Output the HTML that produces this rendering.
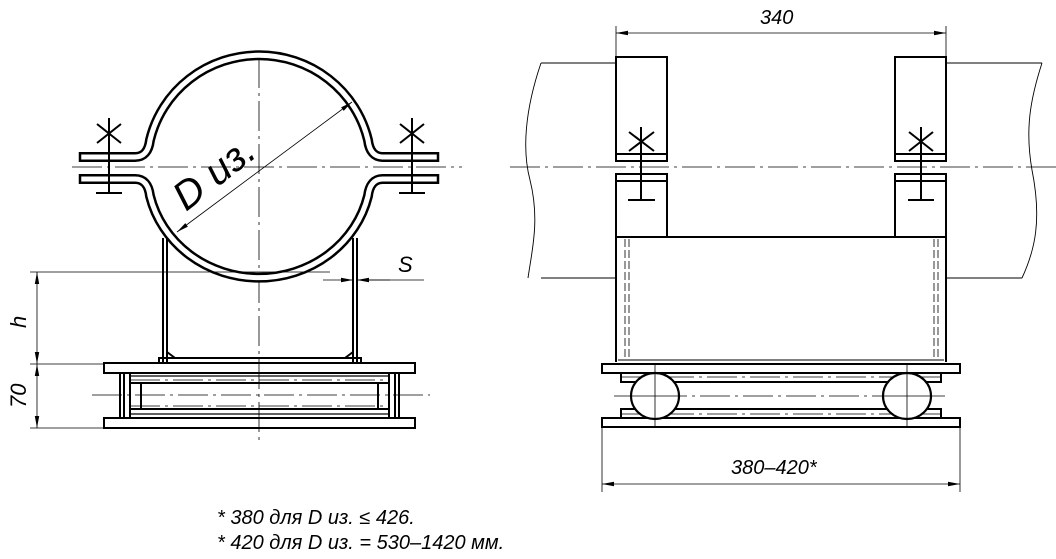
<!DOCTYPE html>
<html><head><meta charset="utf-8"><style>
html,body{margin:0;padding:0;background:#fff;}
svg{display:block;}
text{font-family:"Liberation Sans","DejaVu Sans",sans-serif;font-style:italic;fill:#000;}
</style></head><body>
<svg width="1056" height="559" viewBox="0 0 1056 559" xmlns="http://www.w3.org/2000/svg">
<defs>
<marker id="ar" viewBox="0 0 12 6" refX="12" refY="3" markerWidth="12" markerHeight="6" orient="auto-start-reverse" markerUnits="userSpaceOnUse"><path d="M0,0.8 L12,3 L0,5.2z" fill="#000"/></marker>
</defs>
<g fill="none" stroke="#000">
<!-- ===== LEFT VIEW ===== -->
<line x1="72" y1="167" x2="462" y2="167" stroke-width="0.8" stroke-dasharray="30,5,3,5"/>
<line x1="259" y1="58" x2="259" y2="442" stroke-width="0.8" stroke-dasharray="30,5,3,5"/>
<line x1="92" y1="395" x2="430" y2="395" stroke-width="0.8" stroke-dasharray="30,5,3,5"/>
<path d="M80,157 L135,157 Q148,157 150,140 A112,110 0 0 1 368,140 Q370,157 383,157 L438,157" stroke-width="10"/>
<path d="M80,157 L135,157 Q148,157 150,140 A112,110 0 0 1 368,140 Q370,157 383,157 L438,157" stroke="#fff" stroke-width="5"/>
<path d="M80,179 L135,179 Q148,179 150,196 A112,106 0 0 0 368,196 Q370,179 383,179 L438,179" stroke-width="10"/>
<path d="M80,179 L135,179 Q148,179 150,196 A112,106 0 0 0 368,196 Q370,179 383,179 L438,179" stroke="#fff" stroke-width="5"/>
<path d="M80,152 V162 M80,174 V184 M438,152 V162 M438,174 V184" stroke-width="2.5"/>
<g stroke-width="2">
<path d="M109,118 V193 M96,193 H122 M97,124 L121,143 M121,124 L97,143"/>
<path d="M412,118 V193 M399,193 H425 M400,124 L424,143 M424,124 L400,143"/>
</g>
<line x1="177" y1="232" x2="352" y2="102" stroke-width="0.8" marker-start="url(#ar)" marker-end="url(#ar)"/>
<g stroke-width="2">
<path d="M163,238 V362 M167,238 V362 M353,238 V362 M357,238 V362"/>
<path d="M159,362 V358 H361 V362"/>
<path d="M167,352 L175,358 M353,352 L345,358"/>
<rect x="104" y="363" width="311" height="10"/>
<rect x="104" y="418" width="311" height="10"/>
<path d="M120,373 V418 M124,373 V418 M130,373 V418 M141,383 V409 M130,383 H389 M130,409 H389"/>
<path d="M399,373 V418 M395,373 V418 M389,373 V418 M378,383 V409"/>
</g>
<path d="M130,376 H389 M130,414 H389" stroke-width="1.2"/>
<path d="M130,380 H389 M130,406 H389" stroke-width="0.8" stroke-dasharray="30,5,3,5"/>
<g stroke-width="0.8">
<path d="M30,272 H330 M30,364 H104 M30,428 H104"/>
<line x1="37" y1="272" x2="37" y2="364" marker-start="url(#ar)" marker-end="url(#ar)"/>
<line x1="37" y1="364" x2="37" y2="428" marker-start="url(#ar)" marker-end="url(#ar)"/>
<line x1="323" y1="280" x2="353" y2="280" marker-end="url(#ar)"/>
<line x1="390" y1="280" x2="357" y2="280" marker-end="url(#ar)"/>
<line x1="357" y1="280" x2="424" y2="280"/>
</g>
<!-- ===== RIGHT VIEW ===== -->
<line x1="510" y1="167" x2="1056" y2="167" stroke-width="0.8" stroke-dasharray="30,5,3,5"/>
<g stroke-width="0.9">
<path d="M541,63 H616 M946,63 H1042 M541,278 H616 M946,278 H1022"/>
<path d="M541,63 C525,110 522,150 530,180 C540,220 532,250 528,278"/>
<path d="M1042,63 C1030,100 1025,130 1032,170 C1042,220 1035,250 1022,278"/>
</g>
<g stroke-width="0.8">
<path d="M616,26 V57 M946,26 V57"/>
<line x1="616" y1="33" x2="946" y2="33" marker-start="url(#ar)" marker-end="url(#ar)"/>
</g>
<g stroke-width="2">
<rect x="616" y="57" width="51" height="104"/>
<rect x="895" y="57" width="51" height="104"/>
<rect x="616" y="174" width="51" height="63"/>
<rect x="895" y="174" width="51" height="63"/>
<path d="M616,154 H667 M895,154 H946 M616,181 H667 M895,181 H946"/>
<path d="M641,127 V200 M628,200 H655 M629,132 L654,151 M654,132 L629,151"/>
<path d="M921,127 V200 M908,200 H934 M909,132 L933,151 M933,132 L909,151"/>
<path d="M616,237 H946 M616,237 V362 M946,237 V362"/>
<rect x="602" y="364" width="358" height="9"/>
<path d="M621,373 V382 H941 V373 M621,418 V409 H941 V418"/>
<rect x="602" y="418" width="358" height="9"/>
</g>
<path d="M618,360 H944" stroke-width="1"/>
<g stroke-width="0.8" stroke-dasharray="8,3">
<path d="M625,239 V360 M629,239 V360 M934,239 V360 M938,239 V360"/>
</g>
<g stroke-width="0.8">
<path d="M614,396 H948 M621,377 H941 M621,414 H941" stroke-dasharray="30,5,3,5"/>
</g>
<g stroke-width="2.2" fill="#fff">
<ellipse cx="655" cy="396" rx="24" ry="23"/>
<ellipse cx="907" cy="396" rx="24" ry="23"/>
</g>
<g stroke-width="0.8">
<path d="M655,364 V428 M907,364 V428 M631,396 H679 M883,396 H931"/>
<path d="M602,427 V492 M960,427 V492"/>
<line x1="602" y1="484" x2="960" y2="484" marker-start="url(#ar)" marker-end="url(#ar)"/>
</g>
</g>
<text x="0" y="0" font-size="40" transform="translate(186,212) rotate(-38)">D из.</text>
<text x="0" y="0" font-size="22" transform="translate(26,328) rotate(-90)">h</text>
<text x="0" y="0" font-size="22" transform="translate(26,408) rotate(-90)">70</text>
<text x="398" y="272" font-size="22">S</text>
<text x="760" y="24" font-size="20">340</text>
<text x="731" y="474" font-size="20">380–420*</text>
<text x="217" y="524" font-size="20">* 380 для D из. ≤ 426.</text>
<text x="217" y="549" font-size="20">* 420 для D из. = 530–1420 мм.</text>
</svg>
</body></html>
